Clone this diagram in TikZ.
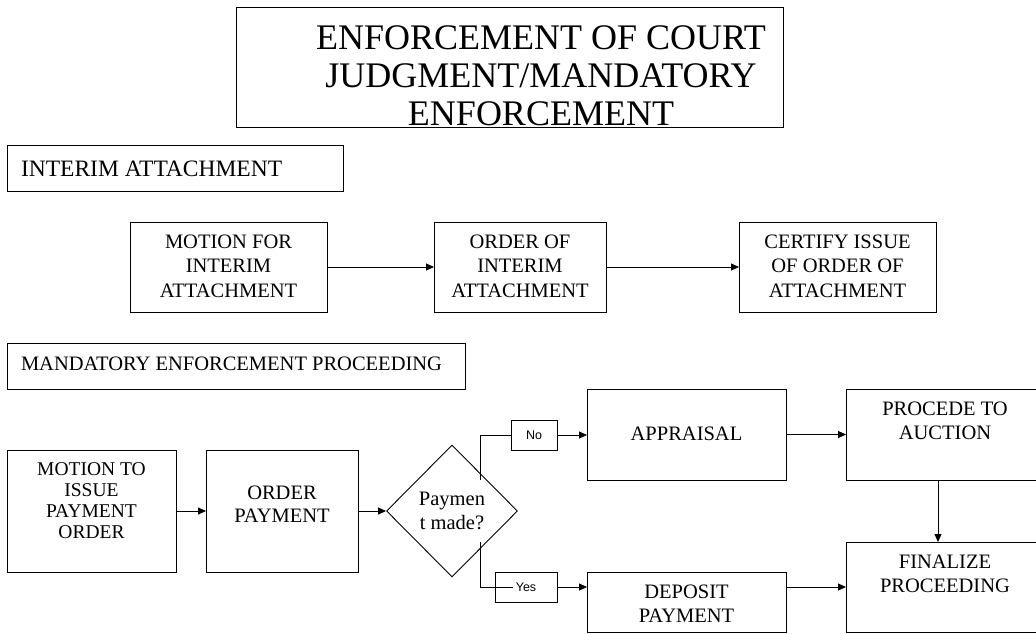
\documentclass[tikz,border=0pt]{standalone}
\usepackage{fontspec}
\setmainfont{Liberation Serif}
\newfontfamily\lblfont{Liberation Sans}
\usetikzlibrary{arrows.meta,shapes.geometric}

% box body: width, height, offset of first baseline from the top, lines
\newcommand\boxbody[4]{\parbox[c][#2][t]{#1}{\centering\rule{0pt}{#3}#4\par}}
% left-aligned heading body: width, height, first baseline, left inset, text
\newcommand\headbody[5]{\parbox[c][#2][t]{#1}{\raggedright\hspace*{#4}\rule{0pt}{#3}#5\par}}

\tikzset{
  box/.style={draw, rectangle, line width=0.9pt, inner sep=0pt, outer sep=0pt},
  txt/.style={font=\fontsize{20.5}{24.5}\selectfont},
  arr/.style={line width=0.9pt, -{Triangle[length=8pt,width=7pt]}},
  conn/.style={line width=0.9pt},
  lbl/.style={draw, rectangle, line width=0.9pt, inner sep=0pt, font=\lblfont\fontsize{12.5}{14}\selectfont},
  decision/.style={draw, diamond, aspect=1, line width=0.9pt, inner sep=0pt,
    minimum width=131pt, minimum height=132pt, align=center,
    font=\fontsize{20.5}{24}\selectfont},
}

\begin{document}
\begin{tikzpicture}[x=1pt, y=-1pt]
\useasboundingbox (0,0) rectangle (1036,633);

% title
\node[box, font=\fontsize{36}{38}\selectfont] (title) at (509.5,67)
  {\parbox[c][120pt][t]{547pt}{\centering\leftskip=63pt plus 1fil\rule{0pt}{42pt}ENFORCEMENT OF COURT\\JUDGMENT/MANDATORY\\ENFORCEMENT\par}};

% interim attachment
\node[box, font=\fontsize{23.5}{26}\selectfont] (hint) at (175,168)
  {\headbody{336pt}{46pt}{31pt}{14pt}{INTERIM ATTACHMENT}};
\node[box, txt] (a1) at (228.5,267) {\boxbody{197pt}{90pt}{26pt}{MOTION FOR\\INTERIM\\ATTACHMENT}};
\node[box, txt] (a2) at (520,267) {\boxbody{172pt}{90pt}{26pt}{ORDER OF\\INTERIM\\ATTACHMENT}};
\node[box, txt] (a3) at (837.5,267) {\boxbody{197pt}{90pt}{26pt}{CERTIFY ISSUE\\OF ORDER OF\\ATTACHMENT}};

\draw[arr] (a1.east) -- (a2.west);
\draw[arr] (a2.east) -- (a3.west);

% mandatory enforcement proceeding
\node[box, txt] (hman) at (236,366) {\headbody{458pt}{46pt}{27pt}{14pt}{MANDATORY ENFORCEMENT PROCEEDING}};

\node[box, font=\fontsize{19.5}{21}\selectfont] (m1) at (91.5,511)
  {\boxbody{169pt}{122pt}{25pt}{MOTION TO\\ISSUE\\PAYMENT\\ORDER}};
\node[box, font=\fontsize{20.5}{23}\selectfont] (m2) at (282,511)
  {\boxbody{152pt}{122pt}{49pt}{ORDER\\PAYMENT}};
\node[decision] (dec) at (452,511) {Paymen\\t made?};

\node[box, txt] (appr) at (686.5,434.5) {\boxbody{199pt}{91pt}{51pt}{APPRAISAL}};
\node[box, font=\fontsize{20.5}{24}\selectfont] (proc) at (945,434.5)
  {\boxbody{198pt}{91pt}{26pt}{PROCEDE TO\\AUCTION}};
\node[box, font=\fontsize{20.5}{24}\selectfont] (fin) at (945,587)
  {\boxbody{198pt}{90pt}{26pt}{FINALIZE\\PROCEEDING}};
\node[box, font=\fontsize{20.5}{24}\selectfont] (dep) at (686.5,602)
  {\boxbody{199pt}{60pt}{26pt}{DEPOSIT\\PAYMENT}};

\node[lbl, minimum width=46pt, minimum height=30pt] (no) at (534,435) {No};
\node[lbl, minimum width=62pt, minimum height=30pt] (yes) at (526,587) {Yes};

\coordinate (nofoot) at (480,480);
\coordinate (yesfoot) at (480,542);

\draw[arr] (m1.east) -- (m2.west);
\draw[arr] (m2.east) -- (dec.west);
\draw[conn] (nofoot) |- (no.west);
\draw[arr] (no.east) -- (appr.west |- no.east);
\draw[conn] (yesfoot) |- ([xshift=-13pt]yes.center);
\draw[arr] (yes.east) -- (dep.west |- yes.east);
\draw[arr] (appr.east) -- (proc.west);
\draw[arr] ([xshift=-7pt]proc.south) -- ([xshift=-7pt]fin.north);
\draw[arr] (dep.east |- yes.east) -- (fin.west |- yes.east);
\end{tikzpicture}
\end{document}
